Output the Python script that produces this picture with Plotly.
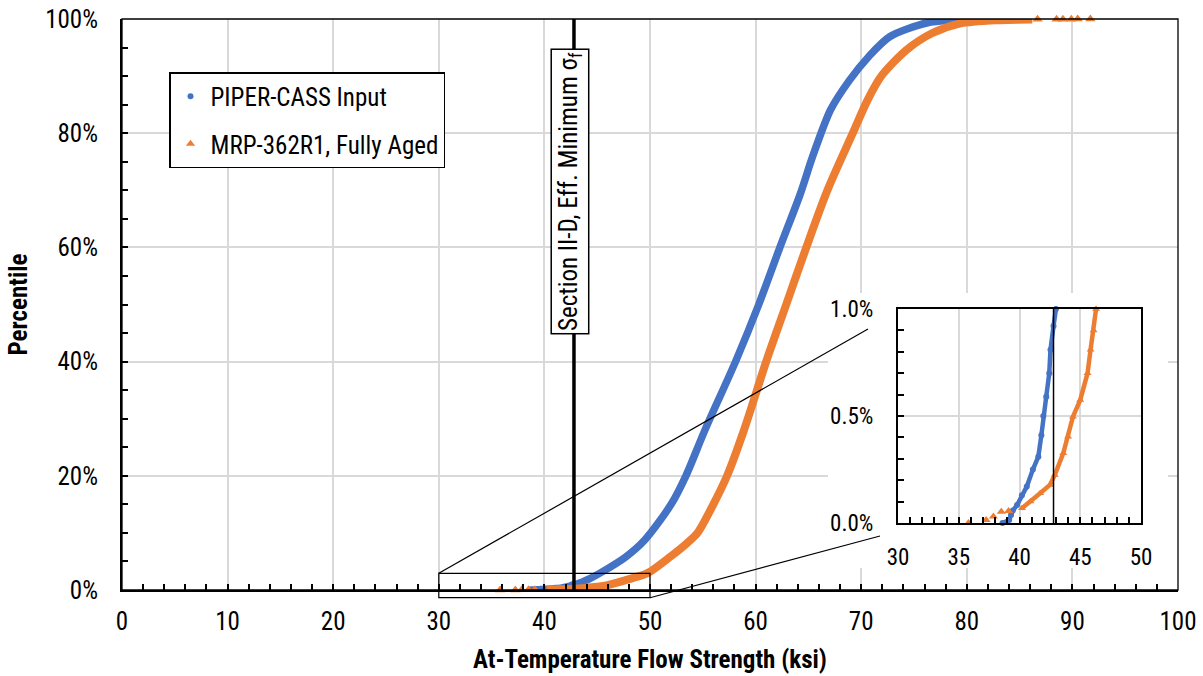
import plotly.graph_objects as go

# ---------------- data ----------------
SERIES_NAMES = ["PIPER-CASS Input", "MRP-362R1, Fully Aged"]

# PIPER-CASS Input: flow strength (ksi) vs cumulative percentile (fraction)
PIPER_X = [38.6, 39.15, 39.3, 39.45, 39.8, 40.2, 40.6, 41.1, 41.55, 41.8, 41.96,
           42.2, 42.45, 42.55, 42.8, 43.0, 44.3, 45.3, 47.7, 49.5, 52.0, 53.4,
           55.2, 58.1, 60.3, 62.3, 64.2, 65.4, 67.1, 68.9, 70.7, 72.7, 76.2,
           78.8, 82.3]
PIPER_P = [0.0, 0.00014, 0.00037, 0.00058, 0.00084, 0.0013, 0.0017, 0.0025,
           0.0031, 0.0041, 0.0050, 0.0059, 0.0070, 0.0081, 0.0092, 0.0100,
           0.020, 0.030, 0.058, 0.0876, 0.15, 0.20, 0.28, 0.40, 0.50, 0.60,
           0.692, 0.759, 0.841, 0.893, 0.934, 0.969, 0.993, 0.998, 1.0]

# MRP-362R1, Fully Aged: main body
MRP_X = [40.2, 40.9, 41.7, 42.5, 42.9, 43.6, 44.0, 44.4, 45.0, 45.6, 45.85,
         46.1, 46.3, 48.2, 49.8, 51.9, 53.5, 54.5, 56.0, 57.3, 58.9, 61.0,
         62.9, 64.8, 66.8, 69.2, 70.6, 71.9, 74.3, 76.7, 79.3, 83.1, 86.2]
MRP_P = [0.00069, 0.0010, 0.00139, 0.00178, 0.00224, 0.00326, 0.00403,
         0.00497, 0.00575, 0.0070, 0.0081, 0.0090, 0.0100, 0.020, 0.030,
         0.058, 0.082, 0.10, 0.15, 0.20, 0.28, 0.40, 0.50, 0.60, 0.70, 0.80,
         0.858, 0.90, 0.946, 0.975, 0.992, 0.998, 0.999]
# MRP-362R1 isolated tail points
MRP_LOW_X = [35.8, 37.25, 37.85, 38.5, 39.1]
MRP_LOW_P = [0.0, 0.00014, 0.0003, 0.00053, 0.00056]
MRP_HIGH_X = [86.7, 88.5, 89.1, 89.9, 90.5, 91.7]
MRP_HIGH_P = [0.9994, 0.9995, 0.9996, 0.9997, 0.9998, 1.0]

SIGMA_F = 42.8  # Section II-D effective minimum flow strength (ksi)

MAIN_X_TICKS = list(range(0, 101, 10))
MAIN_Y_TICKS = [0, 0.2, 0.4, 0.6, 0.8, 1.0]
INSET_X_TICKS = [30, 35, 40, 45, 50]
INSET_Y_TICKS = [0, 0.005, 0.01]
ZOOM_X = [30, 50]

# ---------------- styling ----------------
BLUE = "#4472C4"
ORANGE = "#ED7D31"
GRID = "#D9D9D9"
FONT = "Liberation Sans Narrow, Arial Narrow, Roboto Condensed, Liberation Sans, Arial, sans-serif"

W, H = 1203, 676
ML, MR, MT, MB = 122, 25, 19, 86
PW, PH = W - ML - MR, H - MT - MB


def px_to_paper(px, py):
    return (px - ML) / PW, (H - MB - py) / PH


fig = go.Figure()

# ---- main plot traces ----
fig.add_trace(go.Scatter(x=PIPER_X, y=PIPER_P, mode="lines",
                         line=dict(color=BLUE, width=7.5, shape="spline", smoothing=0.8),
                         showlegend=False, cliponaxis=False, xaxis="x", yaxis="y"))
fig.add_trace(go.Scatter(x=MRP_X, y=MRP_P, mode="lines",
                         line=dict(color=ORANGE, width=8, shape="spline", smoothing=0.8),
                         showlegend=False, cliponaxis=False, xaxis="x", yaxis="y"))
fig.add_trace(go.Scatter(x=MRP_LOW_X + MRP_HIGH_X, y=MRP_LOW_P + MRP_HIGH_P, mode="markers",
                         marker=dict(color=ORANGE, symbol="triangle-up", size=9),
                         showlegend=False, cliponaxis=False, xaxis="x", yaxis="y"))
fig.add_trace(go.Scatter(x=[SIGMA_F, SIGMA_F], y=[0, 1], mode="lines",
                         line=dict(color="black", width=3.5), showlegend=False,
                         xaxis="x", yaxis="y"))

# ---- inset traces ----
ins_b = [(x, p) for x, p in zip(PIPER_X, PIPER_P) if p <= 0.01 and 30 <= x <= 50]
ins_o = [(x, p) for x, p in zip(MRP_X, MRP_P) if p <= 0.01 and 30 <= x <= 50]
fig.add_trace(go.Scatter(x=[a for a, _ in ins_b], y=[b for _, b in ins_b], mode="lines+markers",
                         line=dict(color=BLUE, width=4.5), marker=dict(color=BLUE, size=6),
                         showlegend=False, cliponaxis=False, xaxis="x2", yaxis="y2"))
fig.add_trace(go.Scatter(x=[a for a, _ in ins_o], y=[b for _, b in ins_o], mode="lines+markers",
                         line=dict(color=ORANGE, width=4.5),
                         marker=dict(color=ORANGE, size=7, symbol="triangle-up"),
                         showlegend=False, cliponaxis=False, xaxis="x2", yaxis="y2"))
fig.add_trace(go.Scatter(x=MRP_LOW_X, y=MRP_LOW_P, mode="markers",
                         marker=dict(color=ORANGE, symbol="triangle-up", size=8),
                         showlegend=False, cliponaxis=False, xaxis="x2", yaxis="y2"))
fig.add_trace(go.Scatter(x=[SIGMA_F, SIGMA_F], y=[0, 0.01], mode="lines",
                         line=dict(color="black", width=1.5), showlegend=False,
                         xaxis="x2", yaxis="y2"))

# ---- legend entries ----
fig.add_trace(go.Scatter(x=[None], y=[None], mode="markers", name=SERIES_NAMES[0],
                         marker=dict(color=BLUE, size=6, symbol="circle"), legendgroup="a"))
fig.add_trace(go.Scatter(x=[None], y=[None], mode="markers", name=SERIES_NAMES[1],
                         marker=dict(color=ORANGE, size=8, symbol="triangle-up"), legendgroup="b"))

# ---- inset white backing (between grid and traces of main subplot) ----
bx0, by0 = 828, 293
bx1, by1 = 1168, 568
shapes = [
    dict(type="rect", xref="x", yref="y", layer="between",
         x0=(bx0 - ML) / PW * 100, x1=(bx1 - ML) / PW * 100,
         y0=(H - MB - by1) / PH, y1=(H - MB - by0) / PH,
         fillcolor="white", line=dict(width=0)),
    # thin frame of main plot (top/right)
    dict(type="rect", xref="paper", yref="paper", x0=0, x1=1, y0=0, y1=1,
         line=dict(color="black", width=1.3), layer="above"),
]
# zoom rectangle on main plot
zy0, zy1 = -0.0135, 0.0292
shapes.append(dict(type="rect", xref="paper", yref="paper",
                   x0=ZOOM_X[0] / 100, x1=ZOOM_X[1] / 100, y0=zy0, y1=zy1,
                   line=dict(color="black", width=1.2), layer="above"))
e1 = px_to_paper(868, 329)
e2 = px_to_paper(880, 536)
shapes.append(dict(type="line", xref="paper", yref="paper", x0=ZOOM_X[0] / 100, y0=zy1,
                   x1=e1[0], y1=e1[1], line=dict(color="black", width=1.2), layer="above"))
shapes.append(dict(type="line", xref="paper", yref="paper", x0=ZOOM_X[1] / 100, y0=zy0,
                   x1=e2[0], y1=e2[1], line=dict(color="black", width=1.2), layer="above"))

ix0, iy0 = px_to_paper(898, 523)
ix1, iy1 = px_to_paper(1141, 309)

fig.update_layout(
    width=W, height=H, template="none",
    margin=dict(l=ML, r=MR, t=MT, b=MB, autoexpand=False),
    paper_bgcolor="white", plot_bgcolor="white",
    font=dict(family=FONT, size=25, color="black"),
    shapes=shapes,
    showlegend=True,
    legend=dict(x=(169 - ML) / PW, y=(H - MB - 72) / PH, xanchor="left", yanchor="top",
                bgcolor="white", bordercolor="black", borderwidth=1.5,
                font=dict(family=FONT, size=25, color="black"),
                tracegroupgap=12, itemwidth=30),
    xaxis=dict(domain=[0, 1], range=[0, 100], tickvals=MAIN_X_TICKS, showgrid=True,
               gridcolor=GRID, gridwidth=1.5, showline=True, linecolor="black", linewidth=2,
               ticks="inside", ticklen=6, tickcolor="black", tickwidth=1.5,
               minor=dict(dtick=2, ticks="inside", ticklen=6, tickcolor="black", tickwidth=1.5,
                          showgrid=False),
               zeroline=False, automargin=False, ticklabelstandoff=8,
               title=dict(text="<b>At-Temperature Flow Strength (ksi)</b>",
                          font=dict(family=FONT, size=25), standoff=15),
               tickfont=dict(size=25), anchor="y"),
    yaxis=dict(domain=[0, 1], range=[0, 1], tickvals=MAIN_Y_TICKS, tickformat=".0%",
               showgrid=True, gridcolor=GRID, gridwidth=1.5, showline=True, linecolor="black",
               linewidth=2, ticks="inside", ticklen=6, tickcolor="black", tickwidth=1.5,
               minor=dict(dtick=0.05, ticks="inside", ticklen=6, tickcolor="black",
                          tickwidth=1.5, showgrid=False),
               zeroline=False, automargin=False, ticklabelstandoff=17,
               title=dict(text="<b>Percentile</b>", font=dict(family=FONT, size=25), standoff=10),
               tickfont=dict(size=25), anchor="x"),
    xaxis2=dict(domain=[ix0, ix1], range=[30, 50], tickvals=INSET_X_TICKS, showgrid=True,
                gridcolor=GRID, gridwidth=1.5, showline=True, mirror=True, linecolor="black",
                linewidth=2, ticks="inside", ticklen=6, tickcolor="black", tickwidth=1.5,
                minor=dict(dtick=1, ticks="inside", ticklen=6, tickcolor="black",
                           tickwidth=1.5, showgrid=False),
                zeroline=False, automargin=False, ticklabelstandoff=12,
                tickfont=dict(size=23), anchor="y2"),
    yaxis2=dict(domain=[iy0, iy1], range=[0, 0.01], tickvals=INSET_Y_TICKS, tickformat=".1%",
                showgrid=True, gridcolor=GRID, gridwidth=1.5, showline=True, mirror=True,
                linecolor="black", linewidth=2, ticks="inside", ticklen=6, tickcolor="black",
                tickwidth=1.5,
                minor=dict(dtick=0.001, ticks="inside", ticklen=6, tickcolor="black",
                           tickwidth=1.5, showgrid=False),
                zeroline=False, automargin=False, ticklabelstandoff=18,
                tickfont=dict(size=23), anchor="x2"),
    annotations=[
        dict(x=SIGMA_F, xref="x", y=(H - MB - 191.5) / PH, yref="paper",
             text="Section II-D, Eff. Minimum σ<sub>f</sub>", textangle=-90, showarrow=False,
             xshift=-4, bgcolor="white", bordercolor="black", borderwidth=1.5, borderpad=2,
             font=dict(family=FONT, size=25, color="black"), xanchor="center", yanchor="middle"),
    ],
)

fig.write_html("out.html")
